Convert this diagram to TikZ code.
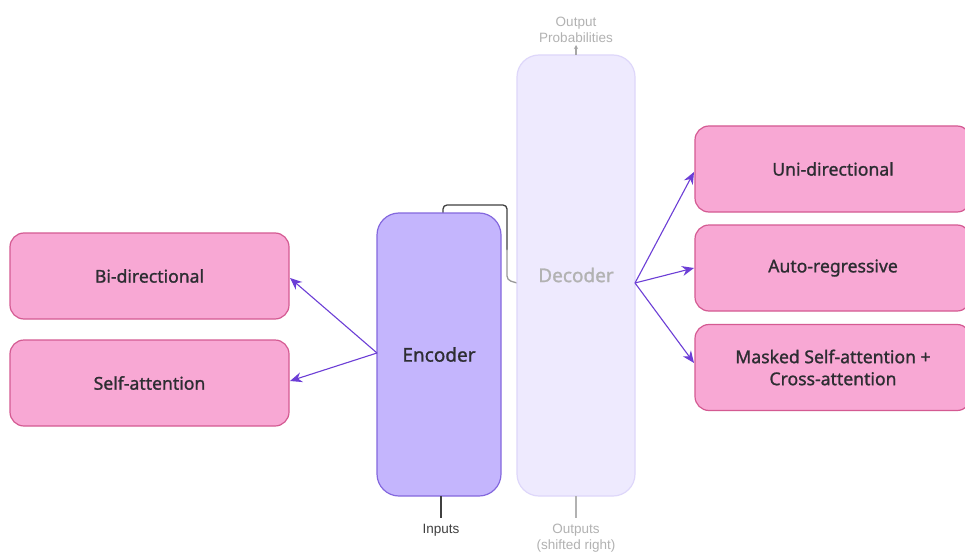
\documentclass[tikz,border=0pt]{standalone}
\usepackage{fontspec}
\setmainfont{Noto Sans}
\newfontfamily\boxfont{Noto Sans}[FakeBold=1.2]
\newfontfamily\labelfont{Liberation Sans}
\usetikzlibrary{arrows.meta}
\definecolor{pinkfill}{RGB}{248,168,212}
\definecolor{pinkline}{RGB}{212,90,146}
\definecolor{encfill}{RGB}{196,181,253}
\definecolor{encline}{RGB}{132,104,222}
\definecolor{decfill}{RGB}{238,234,254}
\definecolor{decline}{RGB}{222,215,250}
\definecolor{arrowcol}{RGB}{108,62,214}
\definecolor{txt}{RGB}{45,45,50}
\tikzset{
  x=1pt, y=-1pt,
  pinkbox/.style={draw=pinkline, line width=1.2pt, fill=pinkfill, rounded corners=14pt,
    font=\boxfont\addfontfeature{FakeBold=1.2}\fontsize{17.6}{22}\selectfont, text=txt, align=center, inner sep=0pt},
  encbox/.style={draw=encline, line width=1.2pt, fill=encfill, rounded corners=22pt,
    font=\boxfont\addfontfeature{FakeBold=1.2}\fontsize{19}{23}\selectfont, text=txt, inner sep=0pt},
  decbox/.style={draw=decline, line width=1.2pt, fill=decfill, rounded corners=22pt,
    inner sep=0pt},
  link/.style={draw=arrowcol, line width=1.1pt, -{Stealth[length=12pt,width=10pt]}},
  smalltxt/.style={font=\labelfont\fontsize{13.5}{16}\selectfont, align=center, inner sep=0pt},
}
\begin{document}
\begin{tikzpicture}
\useasboundingbox[fill=white] (0,0) rectangle (965,556);

% encoder-to-decoder feed line
\draw[black!75, line width=1.3pt, rounded corners=4pt] (443,213) -- (443,205) -- (507,205) -- (507,250);
\draw[black!40, line width=1.3pt, rounded corners=4pt] (507,249) -- (507,280) -- (517,283);

% encoder and decoder stacks
\node[encbox, minimum width=124pt, minimum height=283pt] (enc) at (439,354.5) {Encoder};
\node[decbox, minimum width=118pt, minimum height=441pt] (dec) at (576,275.5) {};
\node[font=\boxfont\fontsize{19}{23}\selectfont, text=black!30] (declabel) at (576,275) {Decoder};

% input / output stubs
\coordinate (inp) at (441,518);
\coordinate (outp) at (576,518);
\draw[black!75, line width=1.5pt] (441,496) -- (inp);
\draw[black!30, line width=1.5pt] (576,496) -- (outp);
\node[smalltxt, text=black!75, anchor=north] (inputs) at (441,524) {Inputs};
\node[smalltxt, text=black!30, anchor=north] (outputs) at (576,524) {Outputs\\(shifted right)};
\coordinate (probtop) at (576,45);
\draw[black!35, line width=1.3pt, -{Stealth[length=4pt,width=4pt]}] (576,55) -- (probtop);
\node[smalltxt, text=black!30, anchor=south] (probs) at (576,43) {Output\\Probabilities};

% encoder properties
\node[pinkbox, minimum width=279pt, minimum height=86pt] (bidir) at (149.5,276) {Bi-directional};
\node[pinkbox, minimum width=279pt, minimum height=86pt] (selfatt) at (149.5,383) {Self-attention};

% decoder properties
\node[pinkbox, minimum width=276pt, minimum height=86pt] (unidir) at (833,169) {Uni-directional};
\node[pinkbox, minimum width=276pt, minimum height=86pt] (autoreg) at (833,268) {Auto-regressive};
\node[pinkbox, minimum width=276pt, minimum height=86pt] (masked) at (833,367.5) {Masked Self-attention +\\Cross-attention};

% arrows
\coordinate (encsrc) at (377,353);
\coordinate (decsrc) at (635,283);
\draw[link] (encsrc) -- (290,278);
\draw[link] (encsrc) -- (290,381);
\draw[link] (decsrc) -- (694,172);
\draw[link] (decsrc) -- (694,268);
\draw[link] (decsrc) -- (694,363);
\end{tikzpicture}
\end{document}
